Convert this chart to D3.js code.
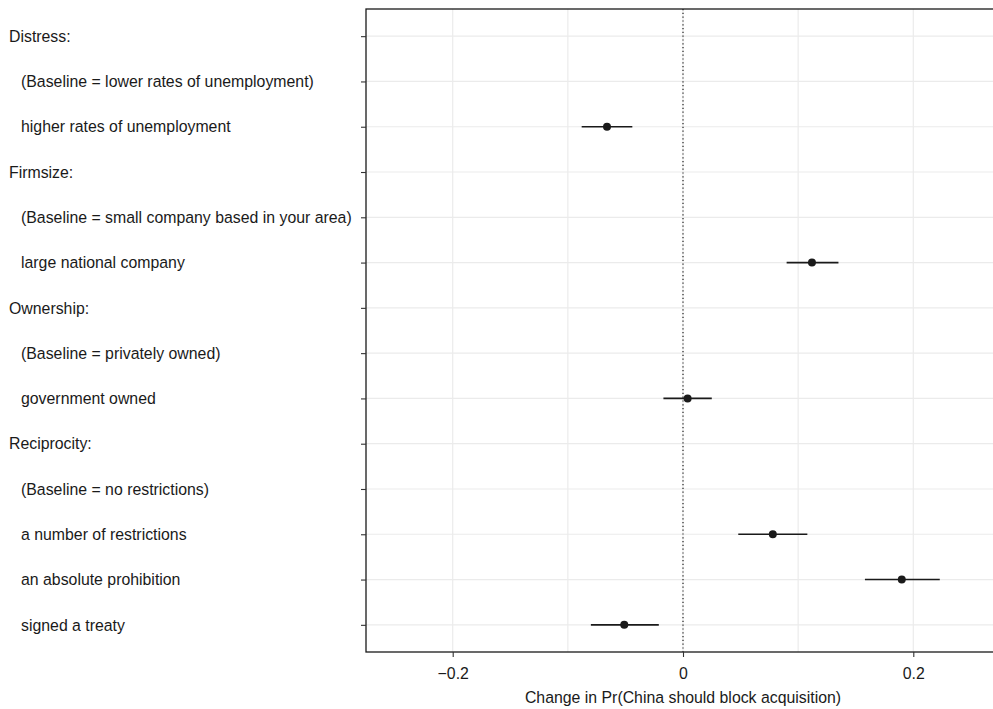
<!DOCTYPE html>
<html><head><meta charset="utf-8">
<script src="https://cdn.jsdelivr.net/npm/d3@7"></script>
<style>body{margin:0;background:#fff;} svg{display:block;}</style>
</head><body>
<svg id="chart" width="993" height="709"></svg>
<script>
const labels = [
  "Distress:",
  "(Baseline = lower rates of unemployment)",
  "higher rates of unemployment",
  "Firmsize:",
  "(Baseline = small company based in your area)",
  "large national company",
  "Ownership:",
  "(Baseline = privately owned)",
  "government owned",
  "Reciprocity:",
  "(Baseline = no restrictions)",
  "a number of restrictions",
  "an absolute prohibition",
  "signed a treaty"
];
const isHeader = [true,false,false,true,false,false,true,false,false,true,false,false,false,false];
const estimates = [null,null,-0.066,null,null,0.112,null,null,0.004,null,null,0.078,0.190,-0.051];
const lower =     [null,null,-0.088,null,null,0.090,null,null,-0.017,null,null,0.048,0.158,-0.080];
const upper =     [null,null,-0.044,null,null,0.135,null,null,0.025,null,null,0.108,0.223,-0.021];
const xTicks = [-0.2, 0, 0.2];
const xTickLabels = ["\u22120.2", "0", "0.2"];
const xGrid = [-0.2, -0.1, 0, 0.1, 0.2];
const xTitle = "Change in Pr(China should block acquisition)";

(function(){
const svg = d3.select("#chart");
const pL = 366, pR = 1000, pT = 9, pB = 652;
const font = "'Liberation Sans', Arial, Helvetica, sans-serif";
const fs = 15.85;

const x = d3.scaleLinear().domain([-0.2753, 0.2753]).range([pL, pR]);
const y = d3.scalePoint().domain(d3.range(labels.length)).range([pT, pB]).padding(0.6);

// gridlines
svg.append("g").selectAll("line").data(xGrid).join("line")
  .attr("x1", d => x(d)).attr("x2", d => x(d)).attr("y1", pT).attr("y2", pB)
  .attr("stroke", "#ebebeb").attr("stroke-width", 1.2);
svg.append("g").selectAll("line").data(labels.map((d,i)=>i)).join("line")
  .attr("x1", pL).attr("x2", pR).attr("y1", d => y(d)).attr("y2", d => y(d))
  .attr("stroke", "#ebebeb").attr("stroke-width", 1.2);

// zero line
svg.append("line").attr("x1", x(0)).attr("x2", x(0)).attr("y1", pT).attr("y2", pB)
  .attr("stroke", "#222").attr("stroke-width", 1.2).attr("stroke-dasharray", "1.2,2.6");

// data
const rows = labels.map((l,i) => ({i, est: estimates[i], lo: lower[i], hi: upper[i]})).filter(d => d.est !== null);
svg.append("g").selectAll("line").data(rows).join("line")
  .attr("x1", d => x(d.lo)).attr("x2", d => x(d.hi)).attr("y1", d => y(d.i)).attr("y2", d => y(d.i))
  .attr("stroke", "#1a1a1a").attr("stroke-width", 1.6);
svg.append("g").selectAll("circle").data(rows).join("circle")
  .attr("cx", d => x(d.est)).attr("cy", d => y(d.i)).attr("r", 4).attr("fill", "#1a1a1a");

// border
svg.append("rect").attr("x", pL).attr("y", pT).attr("width", pR-pL).attr("height", pB-pT)
  .attr("fill", "none").attr("stroke", "#1a1a1a").attr("stroke-width", 1.3);

// y axis
const yAxis = svg.append("g").attr("transform", `translate(${pL},0)`)
  .call(d3.axisLeft(y).tickSize(5).tickFormat(""));
yAxis.select(".domain").remove();
yAxis.selectAll(".tick line").attr("stroke", "#333").attr("stroke-width", 1.1);

svg.append("g").selectAll("text").data(labels.map((l,i)=>({l,i}))).join("text")
  .attr("x", d => isHeader[d.i] ? 9 : 21).attr("y", d => y(d.i)).attr("dy", "0.36em")
  .attr("font-family", font).attr("font-size", fs).attr("fill", "#1a1a1a")
  .text(d => d.l);

// x axis
const xAxis = svg.append("g").attr("transform", `translate(0,${pB})`)
  .call(d3.axisBottom(x).tickValues(xTicks).tickSize(5).tickFormat((d,i) => xTickLabels[i]));
xAxis.select(".domain").remove();
xAxis.selectAll(".tick line").attr("stroke", "#333").attr("stroke-width", 1.1);
xAxis.selectAll(".tick text").attr("font-family", font).attr("font-size", fs).attr("fill", "#1a1a1a")
  .attr("y", 0).attr("dy", 0).attr("transform", "translate(0,26.5)");

svg.append("text").attr("x", (pL+pR)/2).attr("y", 702.5).attr("text-anchor", "middle")
  .attr("font-family", font).attr("font-size", fs).attr("fill", "#1a1a1a").text(xTitle);
})();
</script>
</body></html>
